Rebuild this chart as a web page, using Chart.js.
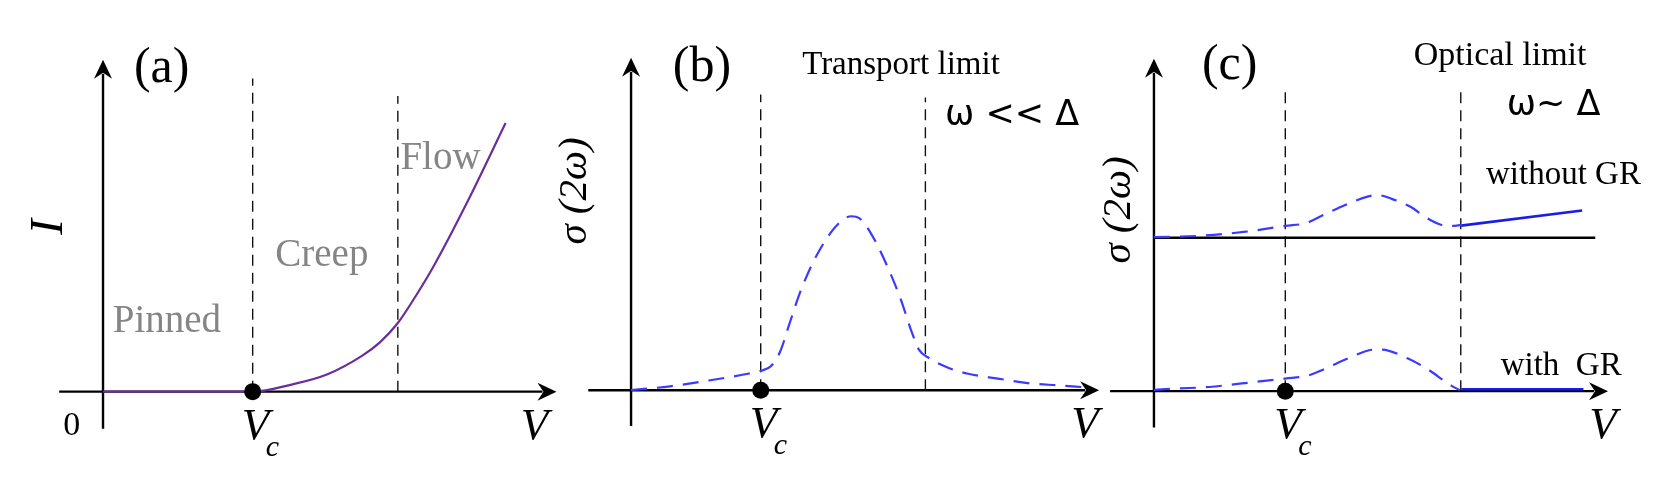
<!DOCTYPE html>
<html>
<head>
<meta charset="utf-8">
<script src="https://cdn.jsdelivr.net/npm/chart.js@4.4.1/dist/chart.umd.min.js"></script>
<style>
  html, body { margin: 0; padding: 0; background: #fff; }
  #wrap { position: relative; width: 1661px; height: 504px; }
  #wrap canvas { position: absolute; left: 0; top: 0; }
</style>
</head>
<body>
<div id="wrap">
  <canvas id="panel-a" width="1661" height="504"></canvas>
  <canvas id="panel-b" width="1661" height="504"></canvas>
  <canvas id="panel-c" width="1661" height="504"></canvas>
</div>
<script>
// x in units of Vc, y in arbitrary units

// (a) I-V
const aCurveX = [0, 1.0, 1.26, 1.50, 1.73, 1.85, 1.97, 2.09, 2.21, 2.44, 2.69];
const aCurveY = [0, 0, 0.073, 0.18, 0.37, 0.51, 0.71, 0.99, 1.30, 1.98, 2.78];
const aBounds = [1, 1.97];
const aBoundTops = [3.24, 3.06];
const aRegions = ['Pinned', 'Creep', 'Flow'];

// (b) transport limit
const bCurveX = [0, 0.3, 0.6, 0.9, 1.0, 1.08, 1.15, 1.22, 1.30, 1.41, 1.54, 1.64, 1.70, 1.76, 1.86, 1.98, 2.08, 2.16, 2.22, 2.30, 2.45, 2.6, 2.83, 3.08, 3.3, 3.5];
const bCurveY = [0, 0.04, 0.10, 0.17, 0.20, 0.25, 0.40, 0.68, 1.0, 1.34, 1.63, 1.77, 1.80, 1.78, 1.60, 1.27, 0.94, 0.62, 0.42, 0.33, 0.23, 0.17, 0.12, 0.07, 0.05, 0.03];
const bBounds = [1, 2.27];
const bBoundTops = [3.06, 3.03];

// (c) optical limit
const cUpperX = [0, 0.38, 0.70, 1.0, 1.16, 1.30, 1.46, 1.62, 1.70, 1.81, 1.95, 2.08, 2.19, 2.27, 2.34];
const cUpperY = [1.593, 1.61, 1.65, 1.71, 1.74, 1.83, 1.93, 2.01, 2.03, 1.99, 1.91, 1.79, 1.72, 1.71, 1.72];
const cUpperSolidX = [2.34, 3.26];
const cUpperSolidY = [1.713, 1.87];
const cLowerX = [0, 0.17, 0.42, 0.67, 1.0, 1.17, 1.30, 1.48, 1.68, 1.73, 1.93, 2.08, 2.26, 2.33];
const cLowerY = [0.013, 0.027, 0.043, 0.08, 0.13, 0.16, 0.23, 0.34, 0.43, 0.43, 0.34, 0.23, 0.06, 0.01];
const cLowerSolidX = [2.34, 3.27];
const cLowerSolidY = [0.02, 0.02];
const cBaseX = [0, 3.36];
const cBaseY = [1.587, 1.587];
const cBounds = [1, 2.336];
const cBoundTops = [3.11, 3.11];

const SERIF = '"Liberation Serif", "Times New Roman", serif';
const SANS = '"DejaVu Sans", sans-serif';

function pts(xs, ys) {
  return xs.map((x, i) => ({ x: x, y: ys[i] }));
}

function boundSets(bounds, tops) {
  return bounds.map((b, i) => ({
    data: pts([b, b], [0, tops[i]]),
    borderColor: '#111', borderWidth: 1.4, borderDash: [11, 7],
    showLine: true, pointRadius: 0, order: 3
  }));
}

function curve(xs, ys, color, dashed, width) {
  return {
    data: pts(xs, ys),
    borderColor: color, borderWidth: width || 2.2,
    borderDash: dashed ? [16, 10] : [],
    showLine: true, pointRadius: 0, tension: 0.4,
    cubicInterpolationMode: 'monotone', order: 1
  };
}

function vcDot(x) {
  return {
    data: [{ x: x, y: 0 }], showLine: false,
    pointRadius: 8.5, pointBackgroundColor: '#000', pointBorderWidth: 0, order: 0
  };
}

function arrow(ctx, x, y, ang) {
  ctx.save();
  ctx.translate(x, y);
  ctx.rotate(ang);
  ctx.beginPath();
  ctx.moveTo(0, 0);
  ctx.lineTo(-19, -9);
  ctx.lineTo(-13, 0);
  ctx.lineTo(-19, 9);
  ctx.closePath();
  ctx.fill();
  ctx.restore();
}

const sketch = {
  id: 'sketch',
  beforeDatasetsDraw(chart, args, o) {
    const ctx = chart.ctx, sx = chart.scales.x, sy = chart.scales.y;
    const x0 = sx.getPixelForValue(0), y0 = sy.getPixelForValue(0);
    const xs = sx.getPixelForValue(o.xAxis[0]), xe = sx.getPixelForValue(o.xAxis[1]);
    const ys = sy.getPixelForValue(o.yAxis[0]), ye = sy.getPixelForValue(o.yAxis[1]);
    ctx.save();
    ctx.strokeStyle = '#000';
    ctx.fillStyle = '#000';
    ctx.lineWidth = 2.4;
    ctx.beginPath();
    ctx.moveTo(xs, y0); ctx.lineTo(xe - 14, y0);
    ctx.moveTo(x0, ys); ctx.lineTo(x0, ye + 14);
    ctx.stroke();
    arrow(ctx, xe, y0, 0);
    arrow(ctx, x0, ye, -Math.PI / 2);
    ctx.restore();
  },
  afterDatasetsDraw(chart, args, o) {
    const ctx = chart.ctx, sx = chart.scales.x, sy = chart.scales.y;
    const y0 = sy.getPixelForValue(0);
    const vx = sx.getPixelForValue(o.vc);
    ctx.save();
    ctx.fillStyle = '#000';
    ctx.textBaseline = 'alphabetic';
    ctx.textAlign = 'left';
    ctx.font = 'italic 45px ' + SERIF;
    ctx.fillText('V', vx - 11, y0 + 47);
    ctx.font = 'italic 30px ' + SERIF;
    ctx.fillText('c', vx + 13, y0 + 64);
    ctx.textAlign = 'center';
    ctx.font = 'italic 45px ' + SERIF;
    ctx.fillText('V', o.vLabelX, y0 + 47);
    o.texts.forEach(t => {
      ctx.save();
      ctx.fillStyle = t.color || '#000';
      ctx.font = (t.italic ? 'italic ' : '') + t.size + 'px ' + (t.family || SERIF);
      ctx.textAlign = t.align || 'left';
      ctx.translate(t.x, t.y);
      if (t.rot) {
        ctx.rotate(-Math.PI / 2);
        ctx.textBaseline = 'middle';
      }
      ctx.fillText(t.text, 0, 0);
      ctx.restore();
    });
    ctx.restore();
  }
};

function makePanel(id, ox, ux, oy, uy, datasets, opts) {
  new Chart(document.getElementById(id), {
    type: 'scatter',
    data: { datasets: datasets },
    options: {
      responsive: false,
      animation: false,
      events: [],
      layout: { padding: 0 },
      scales: {
        x: { type: 'linear', display: false, min: -ox / ux, max: (1661 - ox) / ux },
        y: { type: 'linear', display: false, min: -(504 - oy) / uy, max: oy / uy }
      },
      plugins: { legend: { display: false }, tooltip: { enabled: false }, sketch: opts }
    },
    plugins: [sketch]
  });
}

const GRAY = '#858585';
const PURPLE = '#6a2e9c';
const BLUE = '#3b3bff';
const BLUE_SOLID = '#1c1ce8';

makePanel('panel-a', 95.5, 151.2, 396.5, 100,
  [vcDot(aBounds[0]), curve(aCurveX, aCurveY, PURPLE, false, 2.2)].concat(boundSets(aBounds, aBoundTops)),
  {
    xAxis: [-0.293, 3.03], yAxis: [-0.385, 3.435], vc: aBounds[0], vLabelX: 534.5,
    texts: [
      { text: '(a)', x: 161.7, y: 82, size: 50, align: 'center' },
      { text: 'I', x: 50, y: 227, size: 47, italic: true, rot: true, align: 'center' },
      { text: '0', x: 71.7, y: 434.5, size: 34, align: 'center' },
      { text: aRegions[0], x: 112.7, y: 332, size: 39, color: GRAY },
      { text: aRegions[1], x: 275.3, y: 266, size: 39, color: GRAY },
      { text: aRegions[2], x: 400.4, y: 168.6, size: 39, color: GRAY }
    ]
  });

makePanel('panel-b', 629, 131, 395, 100,
  [vcDot(bBounds[0]), curve(bCurveX, bCurveY, BLUE, true, 2.2)].concat(boundSets(bBounds, bBoundTops)),
  {
    xAxis: [-0.33, 3.61], yAxis: [-0.37, 3.44], vc: bBounds[0], vLabelX: 1085,
    texts: [
      { text: '(b)', x: 702, y: 81, size: 50, align: 'center' },
      { text: 'Transport limit', x: 901, y: 74, size: 33, align: 'center' },
      { text: 'ω << Δ', x: 945, y: 125, size: 35, family: SANS },
      { text: 'σ (2ω)', x: 575, y: 191, size: 41, italic: true, rot: true, align: 'center' }
    ]
  });

makePanel('panel-c', 1157.3, 132.7, 396, 100,
  [vcDot(cBounds[0]),
   curve(cUpperX, cUpperY, BLUE, true, 2.2),
   curve(cUpperSolidX, cUpperSolidY, BLUE_SOLID, false, 2.6),
   curve(cLowerX, cLowerY, BLUE, true, 2.2),
   curve(cLowerSolidX, cLowerSolidY, BLUE_SOLID, false, 2.6),
   curve(cBaseX, cBaseY, '#000', false, 2.4)
  ].concat(boundSets(cBounds, cBoundTops)),
  {
    xAxis: [-0.334, 3.457], yAxis: [-0.375, 3.44], vc: cBounds[0], vLabelX: 1603,
    texts: [
      { text: '(c)', x: 1229.7, y: 79, size: 50, align: 'center' },
      { text: 'Optical limit', x: 1413.7, y: 65, size: 34 },
      { text: 'ω~ Δ', x: 1506.7, y: 115, size: 35, family: SANS },
      { text: 'without GR', x: 1486, y: 184.3, size: 33 },
      { text: 'with  GR', x: 1500.7, y: 375, size: 33 },
      { text: 'σ (2ω)', x: 1119, y: 210, size: 41, italic: true, rot: true, align: 'center' }
    ]
  });
</script>
</body>
</html>
